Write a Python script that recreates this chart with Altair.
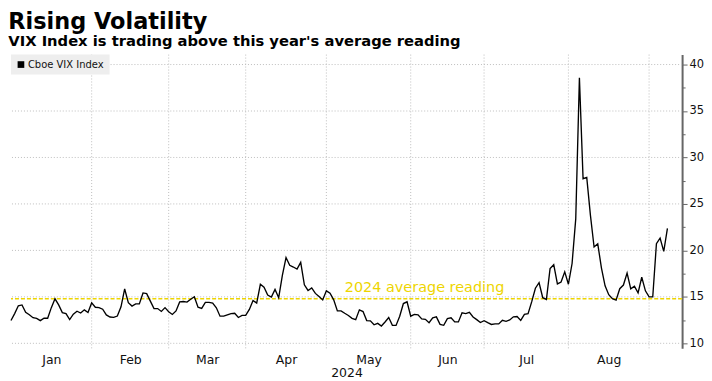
import altair as alt
import pandas as pd

# ---- data (Cboe VIX Index, weekday closes, holidays carried forward) ----
jan = [12.45, 13.20, 14.04, 14.13, 13.35, 13.08, 12.76, 12.69, 12.44, 12.70, 12.70, 13.84,
       14.79, 14.13, 13.30, 13.19, 12.55, 13.14, 13.45, 13.26, 13.60, 13.31, 14.35]
feb = [13.88, 13.85, 13.67, 13.06, 12.83, 12.79, 12.93, 13.93, 15.85, 14.38, 14.01, 14.24,
       14.24, 15.42, 15.34, 14.54, 13.75, 13.74, 13.43, 13.84, 13.40]
mar = [13.11, 13.49, 14.46, 14.50, 14.44, 14.74, 15.01, 13.88, 13.75, 14.40, 14.41, 14.33,
       13.82, 12.92, 12.92, 13.06, 13.19, 13.24, 12.78, 13.01, 13.01]
apr = [13.65, 14.61, 14.33, 16.35, 16.03, 15.19, 14.98, 15.80, 14.91, 17.31, 19.23, 18.40,
       18.21, 18.00, 18.71, 16.30, 15.69, 15.97, 15.37, 15.03, 14.67, 15.65]
may = [15.39, 14.68, 13.49, 13.49, 13.23, 13.00, 12.69, 12.55, 13.60, 13.42, 12.45, 12.42,
       11.99, 12.15, 11.86, 12.29, 12.77, 11.93, 11.93, 12.92, 14.28, 14.47, 12.92]
jun = [13.11, 13.06, 12.63, 12.58, 12.22, 12.74, 12.85, 12.04, 11.94, 12.66, 12.75, 12.30,
       12.30, 13.28, 13.20, 13.33, 12.84, 12.55, 12.24, 12.44]
jul = [12.22, 12.03, 12.09, 12.09, 12.48, 12.37, 12.51, 12.85, 12.89, 12.46, 13.12, 13.19,
       14.48, 15.93, 16.52, 14.91, 14.72, 18.04, 18.46, 16.39, 16.60, 17.69, 16.36]
aug = [18.59, 23.39, 38.57, 27.71, 27.85, 23.79, 20.37, 20.71, 18.12, 16.19, 15.23, 14.80,
       14.65, 15.88, 16.27, 17.55, 15.86, 16.15, 15.43, 17.11, 15.65, 15.00]
sep = [15.00, 20.72, 21.32, 19.90, 22.38]

series_name = "Cboe VIX Index"
avg_value = 14.8
avg_label = "2024 average reading"
month_names = ["Jan", "Feb", "Mar", "Apr", "May", "Jun", "Jul", "Aug"]
y_ticks = [10, 12.5, 15, 17.5, 20, 22.5, 25, 27.5, 30, 32.5, 35, 37.5, 40]
y_grid = [10, 15, 20, 25, 30, 35, 40]

# ---- table ----
values = jan + feb + mar + apr + may + jun + jul + aug + sep
dates = pd.bdate_range("2024-01-01", periods=len(values))
df = pd.DataFrame({"date": dates, "vix": values})
df["idx"] = range(len(df))
df["series"] = series_name
df["month"] = df["date"].dt.month

month_end = df.groupby("month")["idx"].max()
ends = [int(month_end[m]) for m in range(1, 9)]
starts = [0] + ends[:-1]
label_pos = [(a + b) / 2 for a, b in zip(starts, ends)]

vgrid = pd.DataFrame({"idx": ends})
hgrid = pd.DataFrame({"vix": y_grid})
avg_df = pd.DataFrame({"vix": [avg_value]})
# annotation anchor (text placement)
text_df = pd.DataFrame({"idx": [91.0], "vix": [15.55], "t": [avg_label]})

FONT = "DejaVu Sans"
YELLOW = "#eed500"
GRID = "#bdbdbd"

label_expr = "[{}][indexof([{}], datum.value)]".format(
    ",".join("'%s'" % m for m in month_names), ",".join(repr(p) for p in label_pos))

xs = alt.Scale(domain=[0, 183], nice=False, zero=False)
ys = alt.Scale(domain=[9.46, 41.07], nice=False, zero=False)

xaxis = alt.Axis(values=label_pos, labelExpr=label_expr, ticks=False, domain=False,
                 grid=False, labelFont=FONT, labelFontSize=12.5, labelColor="#111",
                 labelPadding=5, labelFlush=False, title="2024", titleFont=FONT,
                 titleFontSize=12.5, titleFontWeight="normal", titleColor="#111",
                 titlePadding=1)
yaxis = alt.Axis(orient="right", values=y_ticks, grid=False,
                 labelExpr="datum.value % 5 === 0 ? datum.label : ''",
                 domainColor="#666", domainWidth=2, tickColor="#666",
                 tickSize={"condition": {"test": "datum.value % 5 === 0", "value": 5}, "value": 3},
                 labelFont=FONT, labelFontSize=11.5, labelColor="#111", labelPadding=2,
                 title=None)

X = alt.X("idx:Q", scale=xs, axis=xaxis)
Y = alt.Y("vix:Q", scale=ys, axis=yaxis)

vrules = alt.Chart(vgrid).mark_rule(color=GRID, strokeDash=[1, 2], strokeWidth=1).encode(x=X)
hrules = alt.Chart(hgrid).mark_rule(color=GRID, strokeDash=[1, 2], strokeWidth=1).encode(y=Y)
avg_rule = alt.Chart(avg_df).mark_rule(color=YELLOW, strokeDash=[4, 2], strokeWidth=1.5).encode(y=Y)

line = alt.Chart(df).mark_line(strokeWidth=1.35).encode(
    x=X, y=Y,
    color=alt.Color("series:N", scale=alt.Scale(range=["#000000"]),
                    legend=alt.Legend(orient="top-left", offset=0, padding=5,
                                      fillColor="#eeeeee", title=None,
                                      symbolType="square", symbolSize=45,
                                      symbolFillColor="#000000", symbolStrokeWidth=0,
                                      labelFont=FONT, labelFontSize=10, labelColor="#111",
                                      labelOffset=2)),
)

avg_text = alt.Chart(text_df).mark_text(align="left", baseline="alphabetic", color=YELLOW,
                                        font=FONT, fontSize=14.5).encode(x=X, y=Y, text="t:N")

chart = alt.layer(vrules, hrules, avg_rule, line, avg_text).properties(
    width=674, height=295,
    padding={"left": 0, "right": 0, "top": 2, "bottom": 0},
    title=alt.TitleParams("Rising Volatility",
                          subtitle="VIX Index is trading above this year's average reading",
                          anchor="start", font=FONT, fontSize=22.5, fontWeight="bold",
                          color="#000", subtitleFont=FONT, subtitleFontSize=14.8,
                          subtitleFontWeight="bold", subtitleColor="#000",
                          subtitlePadding=1, offset=5),
).configure_view(stroke=None)

chart.save("out.html", embed_options={"renderer": "svg", "actions": False})
